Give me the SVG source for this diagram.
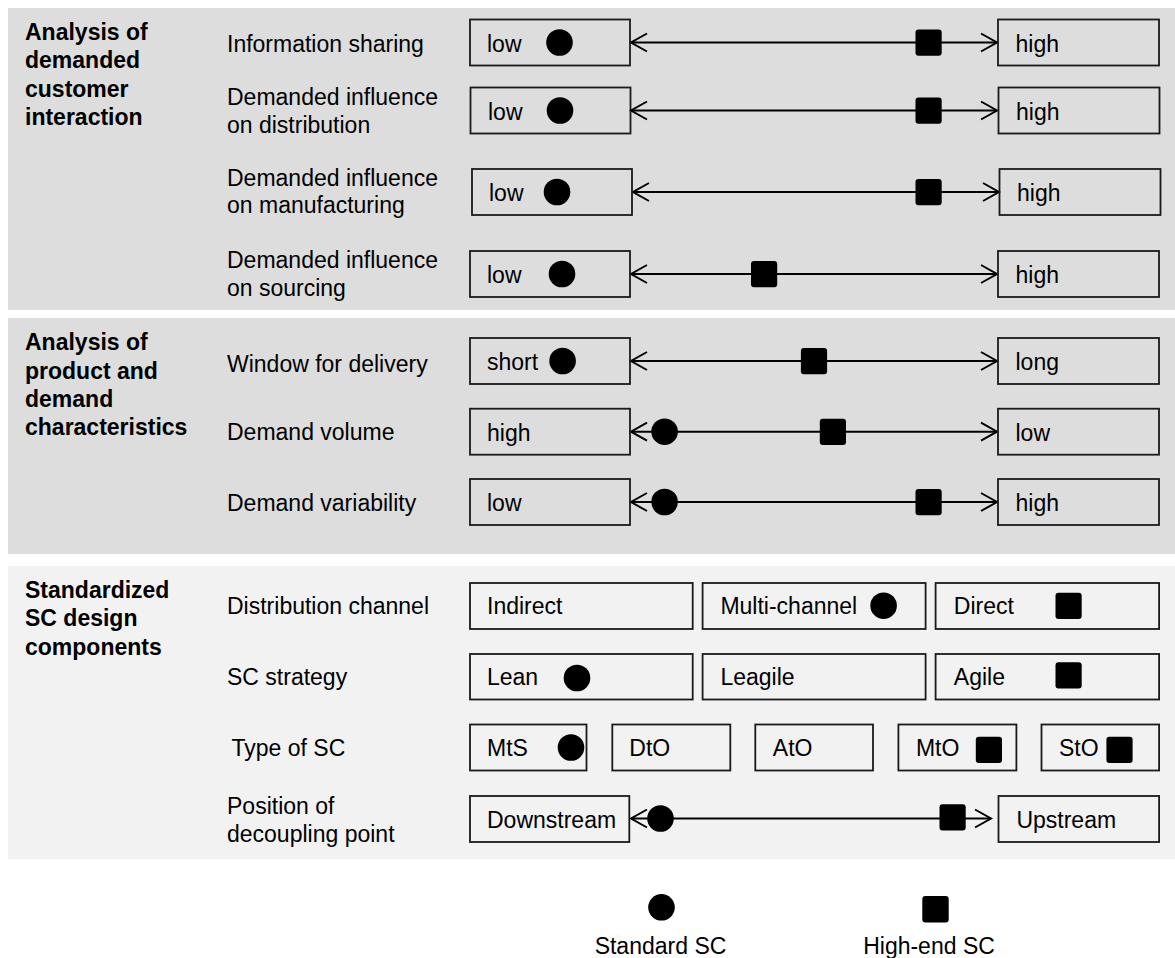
<svg xmlns="http://www.w3.org/2000/svg" width="1175" height="958" viewBox="0 0 1175 958">
  <style>
    text { font-family: "Liberation Sans", Arial, sans-serif; font-size: 23px; fill: #000; }
    .hd { font-weight: bold; }
    .box { fill: none; stroke: #1a1a1a; stroke-width: 1.8; }
    .ln { stroke: #000; stroke-width: 2; fill: none; marker-start: url(#chev); marker-end: url(#chev); }
    .dot { fill: #000; }
    .sq { fill: #000; }
  </style>
  <defs>
    <marker id="chev" markerUnits="userSpaceOnUse" viewBox="-18 -11 20 22" markerWidth="20" markerHeight="22" refX="0" refY="0" orient="auto-start-reverse" overflow="visible">
      <path d="M-16,-9 L0,0 L-16,9" fill="none" stroke="#000" stroke-width="2"/>
    </marker>
  </defs>

  <!-- section bands -->
  <rect x="8" y="8" width="1167" height="302" fill="#dddddd"/>
  <rect x="8" y="318" width="1167" height="236" fill="#dddddd"/>
  <rect x="8" y="566" width="1167" height="293" fill="#f2f2f2"/>

  <!-- section headings -->
  <g id="sec-interaction">
    <text class="hd" x="25" y="39.5">Analysis of</text>
    <text class="hd" x="25" y="68">demanded</text>
    <text class="hd" x="25" y="96.5">customer</text>
    <text class="hd" x="25" y="125">interaction</text>
  </g>
  <g id="sec-product">
    <text class="hd" x="25" y="350">Analysis of</text>
    <text class="hd" x="25" y="378.5">product and</text>
    <text class="hd" x="25" y="406.5">demand</text>
    <text class="hd" x="25" y="434.5">characteristics</text>
  </g>
  <g id="sec-components">
    <text class="hd" x="25" y="597.5">Standardized</text>
    <text class="hd" x="25" y="626">SC design</text>
    <text class="hd" x="25" y="654.5">components</text>
  </g>

  <!-- row labels -->
  <g id="row-labels">
    <text x="227" y="51.7">Information sharing</text>
    <text x="227" y="105">Demanded influence</text>
    <text x="227" y="132.7">on distribution</text>
    <text x="227" y="186">Demanded influence</text>
    <text x="227" y="213.3">on manufacturing</text>
    <text x="227" y="268.3">Demanded influence</text>
    <text x="227" y="296">on sourcing</text>
    <text x="227" y="371.7">Window for delivery</text>
    <text x="227" y="440">Demand volume</text>
    <text x="227" y="511">Demand variability</text>
    <text x="227" y="614">Distribution channel</text>
    <text x="227" y="685">SC strategy</text>
    <text x="231.5" y="756">Type of SC</text>
    <text x="227" y="814">Position of</text>
    <text x="227" y="841.7">decoupling point</text>
  </g>

  <!-- connectors -->
  <g id="connectors">
    <line class="ln" x1="631" y1="42.5" x2="997" y2="42.5"/>
    <line class="ln" x1="631" y1="110.5" x2="997" y2="110.5"/>
    <line class="ln" x1="633" y1="192" x2="999" y2="192"/>
    <line class="ln" x1="631" y1="274" x2="997" y2="274"/>
    <line class="ln" x1="631" y1="361" x2="997" y2="361"/>
    <line class="ln" x1="631" y1="431.7" x2="997" y2="431.7"/>
    <line class="ln" x1="631" y1="502" x2="997" y2="502"/>
    <line class="ln" x1="631" y1="818.5" x2="991" y2="818.5"/>
  </g>

  <!-- scale end boxes -->
  <g id="n-info-low"><rect class="box" x="470" y="19.5" width="160" height="46"/><text x="487" y="51.7">low</text></g>
  <g id="n-info-high"><rect class="box" x="998" y="19.5" width="161" height="46"/><text x="1015.5" y="51.7">high</text></g>
  <g id="n-dist-low"><rect class="box" x="470.5" y="87.5" width="160" height="46"/><text x="488" y="119.5">low</text></g>
  <g id="n-dist-high"><rect class="box" x="998.5" y="87.5" width="161" height="46"/><text x="1016" y="119.5">high</text></g>
  <g id="n-manu-low"><rect class="box" x="472" y="169" width="160" height="46"/><text x="489" y="201">low</text></g>
  <g id="n-manu-high"><rect class="box" x="999.5" y="169" width="161" height="46"/><text x="1017" y="201">high</text></g>
  <g id="n-src-low"><rect class="box" x="470" y="251" width="160" height="46"/><text x="487" y="283">low</text></g>
  <g id="n-src-high"><rect class="box" x="998" y="251" width="161" height="46"/><text x="1015.5" y="283">high</text></g>

  <g id="n-window-short"><rect class="box" x="470" y="338" width="160" height="46"/><text x="487" y="370">short</text></g>
  <g id="n-window-long"><rect class="box" x="998" y="338" width="161" height="46"/><text x="1015.5" y="370">long</text></g>
  <g id="n-volume-high"><rect class="box" x="470" y="408.7" width="160" height="46"/><text x="487" y="440.7">high</text></g>
  <g id="n-volume-low"><rect class="box" x="998" y="408.7" width="161" height="46"/><text x="1015.5" y="440.7">low</text></g>
  <g id="n-var-low"><rect class="box" x="470" y="479" width="160" height="46"/><text x="487" y="511">low</text></g>
  <g id="n-var-high"><rect class="box" x="998" y="479" width="161" height="46"/><text x="1015.5" y="511">high</text></g>

  <!-- design component options -->
  <g id="n-indirect"><rect class="box" x="470" y="583" width="222.7" height="46"/><text x="487" y="614">Indirect</text></g>
  <g id="n-multichannel"><rect class="box" x="702.6" y="583" width="223" height="46"/><text x="720.4" y="614">Multi-channel</text></g>
  <g id="n-direct"><rect class="box" x="935.6" y="583" width="223.5" height="46"/><text x="953.8" y="614">Direct</text></g>

  <g id="n-lean"><rect class="box" x="470" y="654" width="222.7" height="45.5"/><text x="487" y="685">Lean</text></g>
  <g id="n-leagile"><rect class="box" x="702.6" y="654" width="223" height="45.5"/><text x="720.4" y="685">Leagile</text></g>
  <g id="n-agile"><rect class="box" x="935.6" y="654" width="223.5" height="45.5"/><text x="953.8" y="685">Agile</text></g>

  <g id="n-mts"><rect class="box" x="470" y="724.5" width="116.5" height="46"/><text x="487" y="756">MtS</text></g>
  <g id="n-dto"><rect class="box" x="612.3" y="724.5" width="118" height="46"/><text x="629.3" y="756">DtO</text></g>
  <g id="n-ato"><rect class="box" x="755.3" y="724.5" width="117.7" height="46"/><text x="772.8" y="756">AtO</text></g>
  <g id="n-mto"><rect class="box" x="898.4" y="724.5" width="118" height="46"/><text x="915.9" y="756">MtO</text></g>
  <g id="n-sto"><rect class="box" x="1041.5" y="724.5" width="117.6" height="46"/><text x="1059" y="756">StO</text></g>

  <g id="n-downstream"><rect class="box" x="470" y="796" width="159.3" height="46"/><text x="487" y="828">Downstream</text></g>
  <g id="n-upstream"><rect class="box" x="998.5" y="796" width="160.6" height="46"/><text x="1016.4" y="828">Upstream</text></g>

  <!-- Standard SC positions -->
  <g id="standard-sc">
    <circle class="dot" cx="559.5" cy="42.5" r="13.3"/>
    <circle class="dot" cx="560" cy="110.5" r="13.3"/>
    <circle class="dot" cx="557" cy="192" r="13.3"/>
    <circle class="dot" cx="562" cy="274" r="13.3"/>
    <circle class="dot" cx="562.6" cy="361" r="13.3"/>
    <circle class="dot" cx="664.6" cy="431.7" r="13.3"/>
    <circle class="dot" cx="664.6" cy="502" r="13.3"/>
    <circle class="dot" cx="883.6" cy="605.7" r="13.3"/>
    <circle class="dot" cx="577" cy="678" r="13.3"/>
    <circle class="dot" cx="571" cy="747.5" r="13.3"/>
    <circle class="dot" cx="660.5" cy="818.5" r="13.3"/>
  </g>

  <!-- High-end SC positions -->
  <g id="highend-sc">
    <rect class="sq" x="915.5" y="29.5" width="26.2" height="26.2" rx="3"/>
    <rect class="sq" x="915.5" y="97.5" width="26.2" height="26.2" rx="3"/>
    <rect class="sq" x="915.5" y="179" width="26.2" height="26.2" rx="3"/>
    <rect class="sq" x="751" y="261" width="26.2" height="26.2" rx="3"/>
    <rect class="sq" x="800.9" y="348" width="26.2" height="26.2" rx="3"/>
    <rect class="sq" x="819.8" y="418.7" width="26.2" height="26.2" rx="3"/>
    <rect class="sq" x="915.5" y="489" width="26.2" height="26.2" rx="3"/>
    <rect class="sq" x="1055.5" y="592.7" width="26.2" height="26.2" rx="3"/>
    <rect class="sq" x="1055.5" y="662.3" width="26.2" height="26.2" rx="3"/>
    <rect class="sq" x="975.8" y="736.7" width="26.2" height="26.2" rx="3"/>
    <rect class="sq" x="1106.4" y="736.7" width="26.2" height="26.2" rx="3"/>
    <rect class="sq" x="939.5" y="804.3" width="26.2" height="26.2" rx="3"/>
  </g>

  <!-- legend -->
  <g id="legend-standard">
    <circle class="dot" cx="661.5" cy="907.3" r="13.3"/>
    <text x="660.5" y="954" text-anchor="middle">Standard SC</text>
  </g>
  <g id="legend-highend">
    <rect class="sq" x="922.3" y="896" width="26.4" height="26.4" rx="3"/>
    <text x="929" y="954" text-anchor="middle">High-end SC</text>
  </g>
</svg>
